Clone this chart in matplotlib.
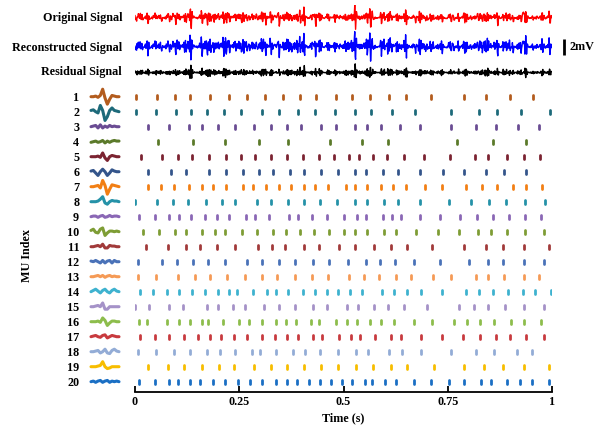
import numpy as np
import matplotlib
matplotlib.use("Agg")
import matplotlib.pyplot as plt

plt.rcParams['font.family'] = ['Liberation Serif', 'DejaVu Serif']
plt.rcParams['font.weight'] = 'bold'

# ---------------- data ----------------
mu_labels = [str(i) for i in range(1, 21)]
signal_labels = ["Original Signal", "Reconstructed Signal", "Residual Signal"]
time_ticks = [0, 0.25, 0.5, 0.75, 1]
time_tick_labels = ["0", "0.25", "0.5", "0.75", "1"]

mu_colors = ["#B35C1E", "#1D6A7A", "#6A4C93", "#5B7A2A", "#7B2331",
             "#34558B", "#F27F14", "#2592A8", "#8A67B5", "#7E9D35",
             "#A13A3A", "#4A72B8", "#F59A56", "#3EB2CF", "#A592C8",
             "#8DBD4C", "#C83A3E", "#93ACD6", "#F7BD00", "#1A6FC4"]

# firing times (s) of each motor unit
mu1 = [0.003, 0.052, 0.096, 0.133, 0.181, 0.226, 0.268, 0.312, 0.356, 0.396, 0.433, 0.482, 0.520, 0.564, 0.609, 0.650, 0.709, 0.789, 0.841, 0.899, 0.954]
mu2 = [0.002, 0.050, 0.098, 0.134, 0.173, 0.213, 0.255, 0.305, 0.345, 0.390, 0.432, 0.480, 0.528, 0.565, 0.616, 0.672, 0.758, 0.824, 0.869, 0.926, 0.995]
mu3 = [0.030, 0.082, 0.129, 0.160, 0.200, 0.241, 0.285, 0.326, 0.364, 0.397, 0.446, 0.482, 0.528, 0.557, 0.590, 0.636, 0.683, 0.758, 0.818, 0.866, 0.919, 0.968]
mu4 = [0.054, 0.140, 0.216, 0.298, 0.366, 0.468, 0.545, 0.606, 0.771, 0.858, 0.938]
mu5 = [0.014, 0.064, 0.102, 0.137, 0.178, 0.218, 0.255, 0.287, 0.327, 0.364, 0.402, 0.442, 0.478, 0.512, 0.538, 0.570, 0.605, 0.646, 0.694, 0.756, 0.816, 0.846, 0.891, 0.932, 0.972]
mu6 = [0.030, 0.086, 0.122, 0.177, 0.219, 0.260, 0.298, 0.330, 0.372, 0.406, 0.445, 0.488, 0.528, 0.554, 0.595, 0.630, 0.683, 0.739, 0.790, 0.842, 0.886, 0.938]
mu7 = [0.030, 0.062, 0.094, 0.130, 0.160, 0.188, 0.218, 0.260, 0.282, 0.313, 0.345, 0.375, 0.405, 0.432, 0.464, 0.505, 0.528, 0.556, 0.590, 0.618, 0.650, 0.696, 0.736, 0.793, 0.832, 0.869, 0.906, 0.938, 0.977]
mu8 = [0.000, 0.052, 0.092, 0.128, 0.170, 0.208, 0.241, 0.293, 0.326, 0.368, 0.406, 0.444, 0.485, 0.528, 0.556, 0.598, 0.630, 0.683, 0.753, 0.806, 0.849, 0.890, 0.935, 0.983]
mu9 = [0.010, 0.048, 0.082, 0.106, 0.134, 0.169, 0.196, 0.226, 0.266, 0.287, 0.322, 0.369, 0.390, 0.424, 0.460, 0.502, 0.532, 0.554, 0.595, 0.616, 0.638, 0.683, 0.731, 0.780, 0.819, 0.858, 0.897, 0.935, 0.974]
mu10 = [0.018, 0.058, 0.097, 0.122, 0.160, 0.193, 0.216, 0.257, 0.292, 0.330, 0.362, 0.396, 0.430, 0.466, 0.501, 0.528, 0.557, 0.598, 0.627, 0.673, 0.727, 0.776, 0.822, 0.854, 0.891, 0.935, 0.982]
mu11 = [0.026, 0.080, 0.122, 0.156, 0.196, 0.241, 0.296, 0.329, 0.360, 0.406, 0.442, 0.490, 0.528, 0.574, 0.613, 0.653, 0.713, 0.788, 0.841, 0.883, 0.934, 0.993]
mu12 = [0.008, 0.064, 0.100, 0.138, 0.176, 0.216, 0.268, 0.304, 0.345, 0.384, 0.426, 0.465, 0.510, 0.555, 0.588, 0.624, 0.668, 0.731, 0.802, 0.846, 0.883, 0.933, 0.982]
mu13 = [0.006, 0.050, 0.102, 0.144, 0.180, 0.220, 0.264, 0.304, 0.341, 0.384, 0.424, 0.464, 0.512, 0.550, 0.586, 0.625, 0.662, 0.714, 0.757, 0.818, 0.846, 0.886, 0.933, 0.968]
mu14 = [0.012, 0.044, 0.076, 0.106, 0.137, 0.168, 0.200, 0.226, 0.245, 0.284, 0.316, 0.338, 0.368, 0.402, 0.432, 0.461, 0.488, 0.516, 0.544, 0.593, 0.620, 0.653, 0.686, 0.736, 0.793, 0.825, 0.859, 0.895, 0.931, 0.960, 0.997]
mu15 = [0.000, 0.034, 0.082, 0.116, 0.172, 0.200, 0.236, 0.264, 0.309, 0.346, 0.384, 0.428, 0.461, 0.508, 0.534, 0.572, 0.606, 0.646, 0.701, 0.776, 0.813, 0.846, 0.888, 0.933, 0.980]
mu16 = [0.010, 0.028, 0.076, 0.106, 0.133, 0.160, 0.176, 0.212, 0.250, 0.274, 0.305, 0.337, 0.361, 0.385, 0.422, 0.441, 0.482, 0.508, 0.532, 0.564, 0.589, 0.620, 0.669, 0.712, 0.764, 0.797, 0.828, 0.862, 0.901, 0.934, 0.973]
mu17 = [0.012, 0.048, 0.082, 0.118, 0.152, 0.181, 0.206, 0.238, 0.269, 0.304, 0.336, 0.364, 0.392, 0.426, 0.448, 0.489, 0.517, 0.540, 0.576, 0.613, 0.638, 0.686, 0.736, 0.787, 0.828, 0.865, 0.899, 0.937, 0.980]
mu18 = [0.008, 0.050, 0.094, 0.133, 0.173, 0.204, 0.240, 0.280, 0.300, 0.338, 0.380, 0.408, 0.444, 0.486, 0.530, 0.559, 0.608, 0.641, 0.686, 0.758, 0.818, 0.861, 0.917, 0.951]
mu19 = [0.030, 0.080, 0.118, 0.161, 0.201, 0.238, 0.285, 0.325, 0.365, 0.406, 0.446, 0.486, 0.530, 0.570, 0.613, 0.653, 0.716, 0.790, 0.838, 0.883, 0.933, 0.994]
mu20 = [0.010, 0.048, 0.082, 0.102, 0.133, 0.156, 0.188, 0.216, 0.248, 0.276, 0.305, 0.337, 0.364, 0.389, 0.418, 0.444, 0.470, 0.496, 0.521, 0.552, 0.568, 0.600, 0.627, 0.669, 0.710, 0.752, 0.790, 0.829, 0.853, 0.891, 0.924, 0.951, 0.992]

# MUAP templates (13 samples each, arbitrary units, positive = up)
wave1 = [0, 0, 0.5, -0.5, 1, 6, -1, -6, -2, 1, 0.5, 0, 0]
wave2 = [1, 1.5, 0, -1, 5, 1, -7, -4, 1, 3, 1, 0.5, 0]
wave3 = [0, 0.5, 1, -1, 1.5, -1, 0.5, -0.5, 1, 0, 0.5, 0, 0]
wave4 = [-0.5, 0, 0.5, -0.5, 0, 1, -1, 0.5, -0.5, 0.5, 1, 0.5, 0.5]
wave5 = [0, 0, 0, 0.5, -0.5, 3, -1, -3, 0, 1, 0.5, 0, 0]
wave6 = [0.5, 1, -1, -3, 0, 2, 0, -3, -1, 1.5, 0.5, 0, 0]
wave7 = [0, 0, 0.5, 1, -1, 5, 1, -6, -2, 1.5, 1, 0.5, 0]
wave8 = [0, 0, 0, 0.5, 2, 4, -1, -2, 0, 1, 0.5, 0.5, 0]
wave9 = [0, 0.5, 0.5, -0.5, 0.5, 1, -0.5, 0, 1, 0, 0.5, 0.5, 0]
wave10 = [1, 2, -0.5, -1, 2, 3, -3, -1, 0.5, 0.5, 0, 0.5, 0]
wave11 = [0, 0, 0.5, 1, 0, 2, -1, -1, 1, 0.5, 0.5, 0, 0]
wave12 = [0.5, 0, 1, 0, -1, 1, -1, 0.5, 1, -1, 1, 0, 0]
wave13 = [0, 0, 0.5, 1, 0, 1, -0.5, 0.5, 1, 0, 0.5, 0, 0]
wave14 = [0, 1, 2, 0.5, -1, 1, 2, 0, -1, 1, 2, 0.5, 0]
wave15 = [0, 0, 0.5, 1, 0, 3, -2, -2, 0, 0, 0, 0, 0]
wave16 = [0, 0, 0, 0.5, -0.5, 3, 1, -3, -1, 0.5, 0.5, 0, 0]
wave17 = [0, 0.5, 1, 0, -0.5, 1, 1.5, -1, 0, 1, 0.5, 0, 0]
wave18 = [0, 0, 0.5, 1, -1, 0, 2, -1, -1.5, 1, 2, 0.5, 0]
wave19 = [0, 0, 0, 0.5, 1, 4, 0, -1.5, -1, 0, 0, 0, 0]
wave20 = [0, 0.5, -0.5, 0.5, 1, -0.5, 0.5, 1, -0.5, 0.5, 0, 0.5, 0]

spike_times = [mu1, mu2, mu3, mu4, mu5, mu6, mu7, mu8, mu9, mu10,
               mu11, mu12, mu13, mu14, mu15, mu16, mu17, mu18, mu19, mu20]
templates = [wave1, wave2, wave3, wave4, wave5, wave6, wave7, wave8, wave9, wave10,
             wave11, wave12, wave13, wave14, wave15, wave16, wave17, wave18, wave19, wave20]

# ------------- derived signals (spike trains * templates) -------------
fs = 1000
n = fs
t = np.arange(n) / fs
gain = 0.11  # mV per template unit


def build(shift):
    out = np.zeros(n)
    for times, w in zip(spike_times, templates):
        w = np.asarray(w, float)
        if shift:
            w = np.roll(w, shift)
        half = len(w) // 2
        for s in times:
            c = int(round(s * fs))
            for k, v in enumerate(w):
                idx = c - half + k
                if 0 <= idx < n:
                    out[idx] += v
    return out * gain


reconstructed = build(0)
residual = 0.35 * (build(1) - reconstructed)
original = reconstructed + residual

# ---------------- figure ----------------
W, H = 603, 430
fig = plt.figure(figsize=(W / 100, H / 100), dpi=100)

row_px0, row_dpx = 96.7, 15.0


def px_to_row(p):
    return 1 + (p - row_px0) / row_dpx


y_top, y_bot = px_to_row(5), px_to_row(392)
x0_px, x1_px = 135, 552

ax = fig.add_axes([x0_px / W, (H - 392) / H, (x1_px - x0_px) / W, 387 / H])
ax.set_xlim(0, 1)
ax.set_ylim(y_bot, y_top)

mv_rows = 8.0 / row_dpx  # rows per mV
bases = [px_to_row(18.5), px_to_row(47.5), px_to_row(72.5)]
sig_colors = ["#FF0000", "#0000FF", "#000000"]
for sig, base, col in zip([original, reconstructed, residual], bases, sig_colors):
    ax.plot(t, base - sig * mv_rows, color=col, lw=1.0)

for lab, base in zip(signal_labels, bases):
    ax.text(-0.031, base, lab, ha='right', va='center', fontsize=8.7,
            fontweight='bold', clip_on=False)

# scale bar 2 mV
bx = (563.5 - x0_px) / (x1_px - x0_px)
ax.plot([bx, bx], [bases[1] - 1.0 * mv_rows, bases[1] + 1.0 * mv_rows],
        color='black', lw=2.0, clip_on=False, solid_capstyle='butt')
ax.text(bx + 0.015, bases[1], "2mV", ha='left', va='center', fontsize=8.7,
        fontweight='bold', clip_on=False)

# spike raster
for i, (times, col) in enumerate(zip(spike_times, mu_colors)):
    r = i + 1
    lc = ax.vlines(times, r - 0.14, r + 0.14, color=col, lw=2.0)
    lc.set_capstyle('round')

for side in ['left', 'right', 'top']:
    ax.spines[side].set_visible(False)
ax.spines['bottom'].set_linewidth(1.3)
ax.set_yticks([])
ax.set_xticks(time_ticks)
ax.set_xticklabels(time_tick_labels, fontsize=8.7, fontweight='bold')
ax.tick_params(axis='x', direction='in', length=4, width=1.3, pad=3)
ax.set_xlabel("Time (s)", fontsize=8.7, fontweight='bold', labelpad=3)

# waveform column
axw = fig.add_axes([91 / W, (H - 392) / H, 28 / W, 387 / H])
axw.set_xlim(0, 12)
axw.set_ylim(y_bot, y_top)
for i, (w, col) in enumerate(zip(templates, mu_colors)):
    r = i + 1
    axw.plot(np.arange(len(w)), r - np.asarray(w, float) / 12.0, color=col,
             lw=2.2, solid_capstyle='round', solid_joinstyle='round', clip_on=False)
for s in axw.spines.values():
    s.set_visible(False)
axw.set_xticks([])
axw.set_yticks(range(1, 21))
axw.set_yticklabels(mu_labels, fontsize=8.7, fontweight='bold')
axw.tick_params(axis='y', length=0, pad=8.5)
axw.set_ylabel("MU Index", fontsize=8.7, fontweight='bold')
axw.yaxis.set_label_coords(33 / W, 1 - 256 / H, transform=fig.transFigure)
axw.patch.set_visible(False)

fig.savefig("out.png", dpi=100)
